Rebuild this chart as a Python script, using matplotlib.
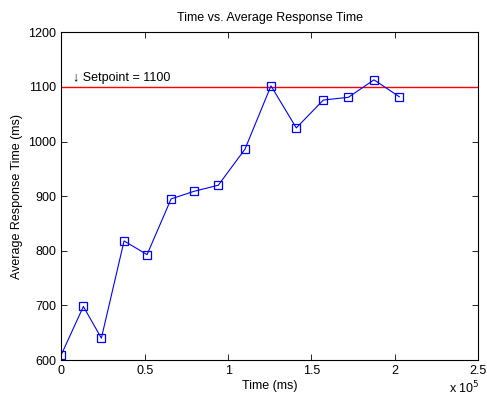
import numpy as np
import matplotlib.pyplot as plt

plt.rcParams['font.family'] = ['Liberation Sans', 'DejaVu Sans']

# time (ms) and average response time (ms)
time_ms = [0, 13200, 24000, 37600, 51400, 65800, 79700, 94100,
           110100, 125700, 140900, 157100, 172100, 187500, 202700]
resp_ms = [610, 698, 640, 818, 793, 895, 909, 920,
           986, 1102, 1025, 1076, 1081, 1113, 1082]
setpoint = 1100

x_ticks = [0, 50000, 100000, 150000, 200000, 250000]
x_labels = ['0', '0.5', '1', '1.5', '2', '2.5']
y_ticks = [600, 700, 800, 900, 1000, 1100, 1200]

fig = plt.figure(figsize=(4.87, 3.99), dpi=100)
ax = fig.add_axes([0.126, 0.0977, 0.856, 0.8213])

ax.axhline(setpoint, color='red', linewidth=1.0)
ax.plot(time_ms, resp_ms, color='blue', linewidth=0.8, marker='s',
        markersize=6, markerfacecolor='none', markeredgecolor='blue',
        markeredgewidth=0.9)

ax.text(7000, 1105, '\u2193 Setpoint = 1100', fontsize=9, va='bottom', ha='left')

ax.set_xlim(0, 250000)
ax.set_ylim(600, 1200)
ax.set_xticks(x_ticks)
ax.set_xticklabels(x_labels)
ax.set_yticks(y_ticks)
ax.tick_params(direction='in', top=True, right=True, labelsize=9, length=4, width=0.6)
for s in ax.spines.values():
    s.set_linewidth(0.8)

ax.set_title('Time vs. Average Response Time', fontsize=9, pad=8)
ax.set_xlabel('Time (ms)', fontsize=9, labelpad=2)
ax.set_ylabel('Average Response Time (ms)', fontsize=9, labelpad=4)
fig.text(0.922, 0.008, 'x 10$^5$', fontsize=9, ha='left', va='bottom')

fig.savefig('out.png', dpi=100)
